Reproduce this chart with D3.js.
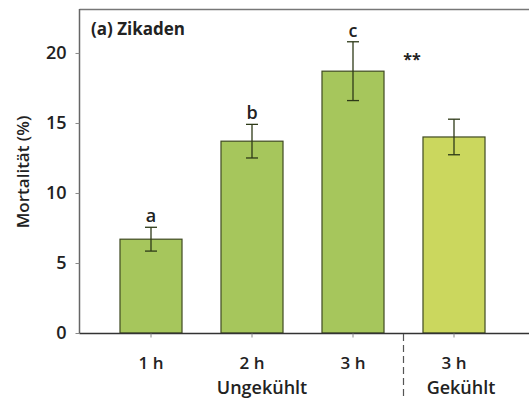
<!DOCTYPE html>
<html><head><meta charset="utf-8">
<script src="https://cdn.jsdelivr.net/npm/d3@7"></script>
<style>body{margin:0;background:#fff}svg{display:block}text{font-family:"Open Sans",sans-serif;fill:#222}</style>
</head><body><svg id="c" width="529" height="400"></svg>
<script>
const categories = ["1 h", "2 h", "3 h", "3 h (gekühlt)"];
const tickLabels = ["1 h", "2 h", "3 h", "3 h"];
const values = [6.7, 13.7, 18.7, 14.0];
const errors = [0.85, 1.2, 2.1, 1.27];
const letters = ["a", "b", "c", ""];
const yTicks = [0, 5, 10, 15, 20];
const groupLabels = ["Ungekühlt", "Gekühlt"];
const barColors = ["#a6c65c", "#a6c65c", "#a6c65c", "#cbd75e"];

const svg = d3.select("#c");
const y = d3.scaleLinear().domain([0, 23.14]).range([333, 9]);
const x = d3.scaleBand().domain(categories).range([100.5, 504.5]).paddingInner(0.386).paddingOuter(0.193);

// frame top
svg.append("line").attr("x1", 79.5).attr("x2", 529).attr("y1", 9.5).attr("y2", 9.5).attr("stroke", "#777").attr("stroke-width", 1.5);

// bars
svg.selectAll("rect.bar").data(values).enter().append("rect")
  .attr("x", (d, i) => x(categories[i]))
  .attr("y", d => y(d))
  .attr("width", x.bandwidth())
  .attr("height", d => y(0) - y(d))
  .attr("fill", (d, i) => barColors[i])
  .attr("stroke", "#3f4a22").attr("stroke-width", 1.2);

// error bars
const eg = svg.append("g").attr("stroke", "#2e3a18").attr("stroke-width", 1.3);
values.forEach((v, i) => {
  const cx = x(categories[i]) + x.bandwidth() / 2;
  eg.append("line").attr("x1", cx).attr("x2", cx).attr("y1", y(v + errors[i])).attr("y2", y(v - errors[i]));
  eg.append("line").attr("x1", cx - 6).attr("x2", cx + 6).attr("y1", y(v + errors[i])).attr("y2", y(v + errors[i]));
  eg.append("line").attr("x1", cx - 6).attr("x2", cx + 6).attr("y1", y(v - errors[i])).attr("y2", y(v - errors[i]));
  if (letters[i]) svg.append("text").attr("x", cx).attr("y", y(v + errors[i]) - 5)
    .attr("text-anchor", "middle").attr("font-size", 18).attr("font-weight", 600).text(letters[i]);
});

// significance
svg.append("text").attr("x", 412).attr("y", y(20) + 12).attr("text-anchor", "middle")
  .attr("font-size", 16).attr("font-weight", 700).text("**");

// y axis
const ya = svg.append("g").attr("transform", "translate(79.5,0)")
  .call(d3.axisLeft(y).tickValues(yTicks).tickSize(4).tickPadding(9).tickSizeOuter(0));
ya.select(".domain").attr("stroke", "#666").attr("stroke-width", 1.5).attr("d", "M0,9V333");
ya.selectAll(".tick line").attr("stroke", "#888");
ya.selectAll(".tick text").attr("font-size", 18).attr("font-weight", 600).attr("font-family", "Open Sans").attr("fill", "#222");

// x axis
const xa = svg.append("g").attr("transform", "translate(0,333.5)")
  .call(d3.axisBottom(x).tickSize(4).tickPadding(19).tickSizeOuter(0).tickFormat((d, i) => tickLabels[i]));
xa.select(".domain").attr("stroke", "#333").attr("stroke-width", 1.5).attr("d", "M79.5,0H529");
xa.selectAll(".tick line").attr("stroke", "#888");
xa.selectAll(".tick text").attr("font-size", 17).attr("font-weight", 600).attr("font-family", "Open Sans").attr("fill", "#222");

// group labels
svg.append("text").attr("x", 262).attr("y", 394).attr("text-anchor", "middle").attr("font-size", 18).attr("font-weight", 600).text(groupLabels[0]);
svg.append("text").attr("x", 461).attr("y", 394).attr("text-anchor", "middle").attr("font-size", 18).attr("font-weight", 600).text(groupLabels[1]);

// dashed separator
const sepX = (x(categories[2]) + x.bandwidth() + x(categories[3])) / 2;
svg.append("line").attr("x1", sepX).attr("x2", sepX).attr("y1", 334).attr("y2", 400)
  .attr("stroke", "#555").attr("stroke-width", 1.2).attr("stroke-dasharray", "7,4");

// title
svg.append("text").attr("x", 91).attr("y", 35).attr("font-size", 17).attr("font-weight", 700).text("(a) Zikaden");

// y label
svg.append("text").attr("transform", "translate(29,172) rotate(-90)").attr("text-anchor", "middle")
  .attr("font-size", 17).attr("font-weight", 600).text("Mortalität (%)");
</script></body></html>
